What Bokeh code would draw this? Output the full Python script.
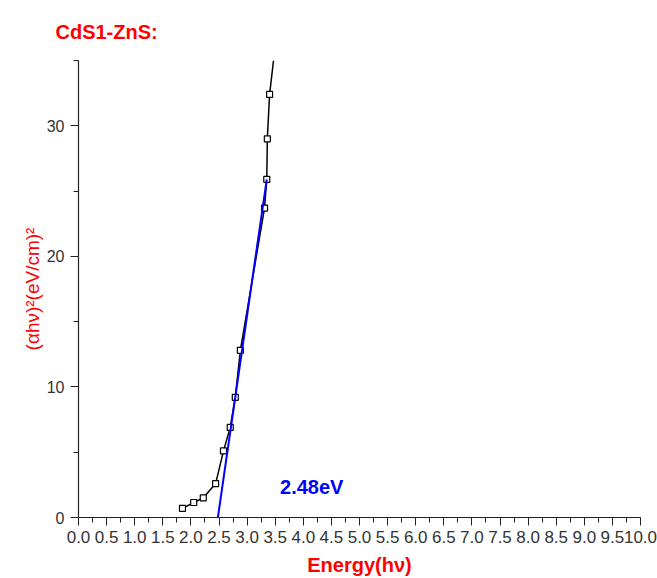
from bokeh.plotting import figure
from bokeh.models import FixedTicker, NumeralTickFormatter, Label
from bokeh.embed import file_html
from bokeh.resources import INLINE

# data
energy = [1.85, 2.05, 2.22, 2.44, 2.58, 2.70, 2.79, 2.88, 3.31, 3.35, 3.36, 3.40, 3.47]
ahv2 = [0.7, 1.15, 1.5, 2.6, 5.1, 6.9, 9.2, 12.8, 23.7, 25.9, 29.0, 32.4, 35.0]
marker_energy = [1.85, 2.05, 2.22, 2.44, 2.58, 2.70, 2.79, 2.88, 3.31, 3.35, 3.36, 3.40]
marker_ahv2 = [0.7, 1.15, 1.5, 2.6, 5.1, 6.9, 9.2, 12.8, 23.7, 25.9, 29.0, 32.4]
fit_energy = [2.48, 3.35]
fit_ahv2 = [0.0, 25.9]
band_gap_label = "2.48eV"
title_text = "CdS1-ZnS:"
x_ticks = [i * 0.5 for i in range(21)]
x_minor = [i * 0.25 for i in range(41)]
y_ticks = [0, 10, 20, 30]
y_minor = [0, 5, 10, 15, 20, 25, 30, 35]

FONT = "Liberation Sans"

p = figure(width=657, height=578, output_backend="svg", toolbar_location=None,
           x_range=(0, 10), y_range=(0, 35),
           min_border_left=78, min_border_right=17, min_border_top=60, min_border_bottom=61)
p.outline_line_color = None
p.grid.visible = False
p.background_fill_color = "white"
p.border_fill_color = "white"

p.title.text = title_text
p.title.text_color = "red"
p.title.text_font = FONT
p.title.text_font_size = "20px"
p.title.text_font_style = "bold"
p.title.align = "left"
p.title.vertical_align = "top"
p.title.offset = -23
p.title.standoff = 31

p.line(energy, ahv2, line_color="black", line_width=1.5)
p.scatter(marker_energy, marker_ahv2, marker="square", size=6, line_color="black",
          fill_color="white", line_width=1.2)
p.line(fit_energy, fit_ahv2, line_color="#0000ff", line_width=2)

p.add_layout(Label(x=4.15, y=2.3, text=band_gap_label, text_color="#0000ff",
                   text_font=FONT, text_font_size="20px", text_font_style="bold",
                   text_align="center", text_baseline="middle"))

for ax in (p.xaxis[0], p.yaxis[0]):
    ax.axis_line_color = "#222222"
    ax.axis_line_width = 1.2
    ax.major_tick_line_color = "#222222"
    ax.minor_tick_line_color = "#222222"
    ax.major_tick_in = 0
    ax.major_tick_out = 8
    ax.minor_tick_in = 0
    ax.minor_tick_out = 5
    ax.major_label_text_font = FONT
    ax.major_label_text_color = "#333333"
    ax.axis_label_text_color = "red"
    ax.axis_label_text_font = FONT

p.xaxis.ticker = FixedTicker(ticks=x_ticks, minor_ticks=x_minor)
p.xaxis.formatter = NumeralTickFormatter(format="0.0")
p.xaxis.axis_label = "Energy(hν)"
p.xaxis.major_label_text_font_size = "17px"
p.xaxis.major_label_standoff = 5
p.xaxis.axis_label_standoff = 8
p.xaxis.axis_label_text_font_size = "20px"
p.xaxis.axis_label_text_font_style = "bold"

p.yaxis.ticker = FixedTicker(ticks=y_ticks, minor_ticks=y_minor)
p.yaxis.axis_label = "(αhν)²(eV/cm)²"
p.yaxis.major_label_text_font_size = "16px"
p.yaxis.major_label_standoff = 6
p.yaxis.axis_label_standoff = 1
p.yaxis.axis_label_text_font_size = "19px"
p.yaxis.axis_label_text_font_style = "normal"

open("out.html", "w").write(file_html(p, INLINE))
